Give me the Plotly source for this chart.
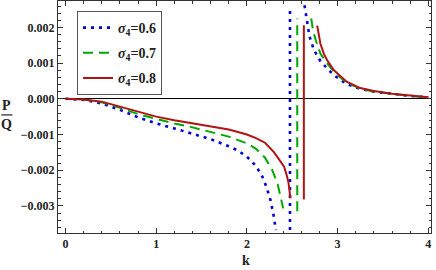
import plotly.graph_objects as go

# ---- data ----
series_names = ["<i>σ</i><sub>4</sub>=0.6", "<i>σ</i><sub>4</sub>=0.7", "<i>σ</i><sub>4</sub>=0.8"]

k_left_06 = [0, 0.2, 0.4, 0.6, 0.8, 1.0, 1.2, 1.4, 1.6, 1.8, 1.9, 2.0, 2.1, 2.17, 2.22, 2.26, 2.29, 2.32]
v_left_06 = [0, -0.00003, -0.00013, -0.00031, -0.00052, -0.00069, -0.00083, -0.00097, -0.00113, -0.00133,
             -0.00145, -0.00162, -0.00188, -0.00218, -0.0025, -0.00284, -0.0032, -0.00368]
k_jump_06 = [2.475, 2.475]
v_jump_06 = [-0.0039, 0.00252]
k_right_06 = [2.635, 2.66, 2.69, 2.74, 2.81, 2.885, 2.96, 3.1, 3.25, 3.4, 3.6, 3.8, 4.0]
v_right_06 = [0.00262, 0.0022, 0.00175, 0.00136, 0.00106, 0.00085, 0.00066, 0.00041, 0.00028, 0.0002, 0.00013,
              0.00008, 0.00004]

k_left_07 = [0, 0.2, 0.4, 0.6, 0.8, 1.0, 1.2, 1.4, 1.6, 1.8, 2.0, 2.1, 2.2, 2.28, 2.34, 2.38, 2.40]
v_left_07 = [0, -0.00002, -0.0001, -0.00025, -0.00043, -0.00057, -0.00069, -0.0008, -0.00092, -0.00106,
             -0.00125, -0.0014, -0.00165, -0.002, -0.0024, -0.0028, -0.00307]
k_jump_07 = [2.555, 2.555]
v_jump_07 = [-0.00315, 0.00225]
k_right_07 = [2.709, 2.73, 2.76, 2.81, 2.885, 2.96, 3.1, 3.25, 3.4, 3.6, 3.8, 4.0]
v_right_07 = [0.00225, 0.0019, 0.00164, 0.00127, 0.00099, 0.00076, 0.00045, 0.00029, 0.0002, 0.00013, 0.00008,
              0.00004]

k_left_08 = [0, 0.2, 0.4, 0.6, 0.8, 1.0, 1.2, 1.4, 1.6, 1.8, 2.0, 2.1, 2.2, 2.3, 2.36, 2.41, 2.44, 2.46, 2.48]
v_left_08 = [0, -0.00002, -0.00008, -0.00022, -0.00038, -0.0005, -0.0006, -0.00068, -0.00076, -0.00086,
             -0.001, -0.0011, -0.00123, -0.0015, -0.00172, -0.0019, -0.00215, -0.00237, -0.00279]
k_jump_08 = [2.628, 2.628]
v_jump_08 = [-0.00282, 0.00206]
k_right_08 = [2.775, 2.79, 2.81, 2.85, 2.885, 2.96, 3.1, 3.25, 3.4, 3.6, 3.8, 4.0]
v_right_08 = [0.00205, 0.0018, 0.00155, 0.00125, 0.00108, 0.0008, 0.00048, 0.0003, 0.00022, 0.00014, 0.00009,
              0.00004]

x_tickvals = [0, 1, 2, 3, 4]
x_ticktext = ["0", "1", "2", "3", "4"]
y_tickvals = [0.002, 0.001, 0.0, -0.001, -0.002, -0.003]
y_ticktext = ["0.002", "0.001", "0.000", "\u22120.001", "\u22120.002", "\u22120.003"]

# ---- styling ----
colors = ["#0000d8", "#00a800", "#b01414"]
dashes = ["3px,5px", "10px,6px", "solid"]
widths = [2.6, 2.0, 2.0]

SERIF = "Liberation Serif"

def joined(kl, vl, kj, vj, kr, vr):
    x = list(kl) + [None] + list(kj) + [None] + list(kr)
    y = list(vl) + [None] + list(vj) + [None] + list(vr)
    return x, y

all_series = [
    (k_left_06, v_left_06, k_jump_06, v_jump_06, k_right_06, v_right_06),
    (k_left_07, v_left_07, k_jump_07, v_jump_07, k_right_07, v_right_07),
    (k_left_08, v_left_08, k_jump_08, v_jump_08, k_right_08, v_right_08),
]

fig = go.Figure()
for i, s in enumerate(all_series):
    x, y = joined(*s)
    fig.add_trace(go.Scatter(
        x=x, y=y, mode="lines", name=series_names[i], connectgaps=False,
        legendgroup=f"g{i}",
        line=dict(color=colors[i], width=widths[i], dash=dashes[i]),
    ))

axis_common = dict(
    showline=True, linecolor="#333333", linewidth=1, mirror="ticks",
    ticks="inside", ticklen=5, tickwidth=1, tickcolor="#333333",
    showgrid=False, automargin=False,
    tickfont=dict(family=SERIF, size=12, color="#222222", weight="bold"),
)

fig.update_layout(
    width=436, height=270,
    margin=dict(l=58, r=5, t=1, b=37),
    paper_bgcolor="white", plot_bgcolor="white",
    showlegend=True,
    legend=dict(
        x=0.051, y=0.957, xanchor="left", yanchor="top",
        bordercolor="#555555", borderwidth=1, bgcolor="white",
        font=dict(family=SERIF, size=14, color="#222222", weight="bold"),
        tracegroupgap=4, itemwidth=30,
    ),
    xaxis=dict(
        range=[-0.083, 4.03], tickvals=x_tickvals, ticktext=x_ticktext,
        zeroline=False,
        minor=dict(dtick=0.2, ticks="inside", ticklen=2.5, tickcolor="#333333", showgrid=False),
        **axis_common,
    ),
    yaxis=dict(
        range=[-0.00376, 0.00274], tickvals=y_tickvals, ticktext=y_ticktext,
        zeroline=True, zerolinecolor="black", zerolinewidth=1.3,
        minor=dict(dtick=0.0002, tick0=0, ticks="inside", ticklen=2.5, tickcolor="#333333", showgrid=False),
        **axis_common,
    ),
)

fig.add_annotation(text="<b>k</b>", xref="paper", yref="paper", x=0.504, y=-0.12,
                   showarrow=False, font=dict(family=SERIF, size=14, color="#222222"),
                   xanchor="center", yanchor="middle")
fig.add_annotation(text="<b>P</b>", xref="paper", yref="paper", x=-0.137, y=0.548,
                   showarrow=False, font=dict(family=SERIF, size=14, color="#222222"),
                   xanchor="center", yanchor="middle")
fig.add_annotation(text="<b>Q</b>", xref="paper", yref="paper", x=-0.137, y=0.466,
                   showarrow=False, font=dict(family=SERIF, size=14, color="#222222"),
                   xanchor="center", yanchor="middle")
fig.add_shape(type="line", xref="paper", yref="paper", x0=-0.152, x1=-0.122, y0=0.509, y1=0.509,
              line=dict(color="#222222", width=1.2))

fig.write_html("out.html", config={"displayModeBar": False},
               post_script="document.body.style.margin='0';document.body.style.overflow='hidden';")
